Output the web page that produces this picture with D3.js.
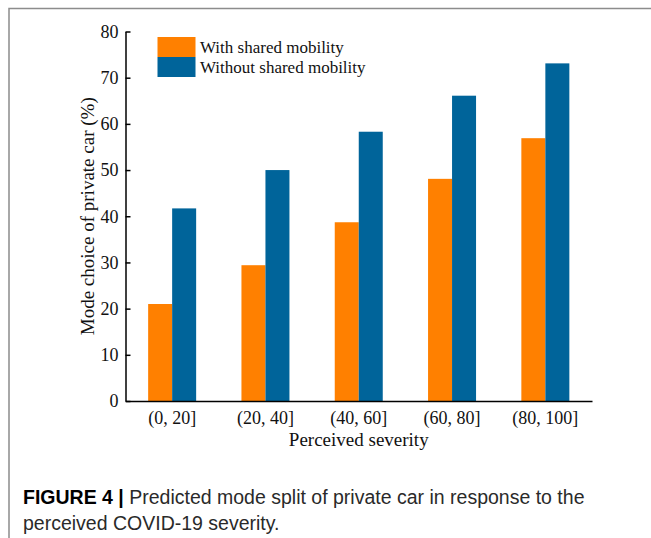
<!DOCTYPE html>
<html>
<head>
<meta charset="utf-8">
<script src="https://cdn.jsdelivr.net/npm/d3@7"></script>
<style>
  body { margin: 0; background: #fff; }
  svg { display: block; }
  .tick text { font-family: "Liberation Serif", "Times New Roman", serif; }
</style>
</head>
<body>
<div id="chart"></div>
<script>
const categories = ['(0, 20]', '(20, 40]', '(40, 60]', '(60, 80]', '(80, 100]'];
const seriesNames = ['With shared mobility', 'Without shared mobility'];
const withShared = [21.0, 29.4, 38.7, 48.1, 56.9];
const withoutShared = [41.7, 50.0, 58.3, 66.1, 73.1];
const yTicks = [0, 10, 20, 30, 40, 50, 60, 70, 80];
const colors = ['#ff8000', '#00649a'];

const width = 651;
const height = 538;
const margin = { top: 31.5, right: 59, bottom: 137, left: 125.5 };

const svg = d3.select('#chart').append('svg')
  .attr('width', width)
  .attr('height', height);

// card frame (top + left edges)
svg.append('path')
  .attr('d', `M9,${height} V8.5 H${width}`)
  .attr('fill', 'none')
  .attr('stroke', '#8c8c8c')
  .attr('stroke-width', 1.5);

const x0 = d3.scaleBand()
  .domain(categories)
  .range([margin.left, width - margin.right]);

const barW = 24;
const x1 = d3.scaleBand()
  .domain(seriesNames)
  .range([x0.bandwidth() / 2 - barW, x0.bandwidth() / 2 + barW]);

const y = d3.scaleLinear()
  .domain([0, 80])
  .range([height - margin.bottom, margin.top]);

const rows = categories.map((c, i) => ({
  cat: c,
  values: [withShared[i], withoutShared[i]],
}));

const groups = svg.append('g').selectAll('g')
  .data(rows)
  .enter().append('g')
  .attr('transform', (d) => `translate(${x0(d.cat)},0)`);

groups.selectAll('rect')
  .data((d) => d.values.map((v, k) => ({ key: seriesNames[k], value: v, k })))
  .enter().append('rect')
  .attr('x', (d) => x1(d.key))
  .attr('width', x1.bandwidth())
  .attr('y', (d) => y(d.value))
  .attr('height', (d) => y(0) - y(d.value))
  .attr('fill', (d) => colors[d.k]);

// y axis, ticks pointing inward
const yAxis = svg.append('g')
  .attr('transform', `translate(${margin.left},0)`)
  .call(d3.axisRight(y).tickValues(yTicks).tickSize(5).tickSizeOuter(0));
yAxis.select('.domain').attr('stroke', '#000').attr('stroke-width', 1.5);
yAxis.selectAll('.tick line').attr('stroke', '#000').attr('stroke-width', 1.5);
yAxis.selectAll('.tick text')
  .attr('x', -7)
  .attr('text-anchor', 'end')
  .attr('font-size', 18)
  .attr('fill', '#111');

// x axis
const xAxis = svg.append('g')
  .attr('transform', `translate(0,${y(0)})`)
  .call(d3.axisBottom(x0).tickSize(0).tickSizeOuter(0));
xAxis.select('.domain').attr('stroke', '#000').attr('stroke-width', 1.5);
xAxis.selectAll('.tick text')
  .attr('y', 10)
  .attr('font-size', 18)
  .attr('fill', '#111');

const serif = '"Liberation Serif", "Times New Roman", serif';

svg.append('text')
  .attr('x', (margin.left + width - margin.right) / 2)
  .attr('y', 446)
  .attr('text-anchor', 'middle')
  .attr('font-family', serif)
  .attr('font-size', 19)
  .attr('fill', '#111')
  .text('Perceived severity');

svg.append('text')
  .attr('transform', `translate(94,${(y(0) + y(80)) / 2}) rotate(-90)`)
  .attr('text-anchor', 'middle')
  .attr('font-family', serif)
  .attr('font-size', 19)
  .attr('fill', '#111')
  .text('Mode choice of private car (%)');

// legend
const legend = svg.append('g')
  .attr('transform', 'translate(157.5,37)');
const item = legend.selectAll('g')
  .data(seriesNames)
  .enter().append('g')
  .attr('transform', (d, i) => `translate(0,${i * 20})`);
item.append('rect')
  .attr('width', 38)
  .attr('height', 20)
  .attr('fill', (d, i) => colors[i]);
item.append('text')
  .attr('x', 42.5)
  .attr('y', 15.5)
  .attr('font-family', serif)
  .attr('font-size', 17)
  .attr('fill', '#111')
  .text((d) => d);

// caption
const caption = svg.append('text')
  .attr('font-family', '"Liberation Sans", Arial, sans-serif')
  .attr('font-size', 19.5)
  .attr('fill', '#2a2a2a');
const line1 = caption.append('tspan').attr('x', 23).attr('y', 504);
line1.append('tspan').attr('font-weight', 'bold').attr('fill', '#000').text('FIGURE 4 | ');
line1.append('tspan').text('Predicted mode split of private car in response to the');
caption.append('tspan').attr('x', 23).attr('y', 530).text('perceived COVID-19 severity.');
</script>
</body>
</html>
